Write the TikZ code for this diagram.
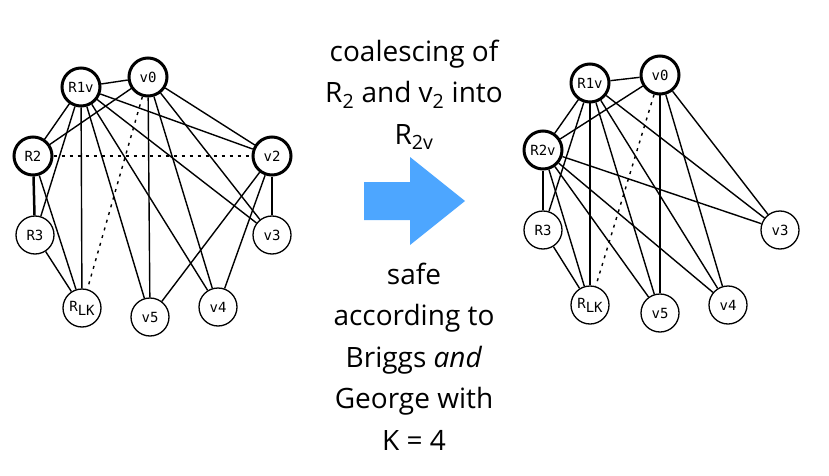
\documentclass[tikz,border=0pt]{standalone}
\usepackage{fontspec}
\setmainfont{Open Sans}
\setmonofont{DejaVu Sans Mono}

\definecolor{arrowblue}{RGB}{77,166,255}

\tikzset{
  reg/.style={circle,draw,line width=1.3pt,fill=white,minimum size=38pt,inner sep=0pt,
    font=\ttfamily\fontsize{14}{14}\selectfont},
  hot/.style={reg,line width=3pt},
  edge/.style={line width=1.4pt},
  moveedge/.style={edge,dash pattern=on 3pt off 5pt},
  caption/.style={align=center,font=\fontsize{28}{41.5}\selectfont}
}

\newcommand{\rlk}{R\raisebox{-4pt}{LK}}

\begin{document}
\begin{tikzpicture}[x=1pt,y=-1pt]

\useasboundingbox (0,0) rectangle (829,476);

% interference graph before coalescing
\node[hot] (lR1v) at (81,87) {R1v};
\node[hot] (lv0) at (148,77) {v0};
\node[hot] (lR2) at (33,156) {R2};
\node[hot] (lv2) at (272,156) {v2};
\node[reg] (lR3) at (35,235) {R3};
\node[reg] (lv3) at (272,235) {v3};
\node[reg] (lRLK) at (82,308) {\rlk};
\node[reg] (lv5) at (150,317) {v5};
\node[reg] (lv4) at (218,307) {v4};

\draw[edge] (lR1v)--(lv0);
\draw[edge] (lR1v)--(lR2);
\draw[edge] (lR1v)--(lR3);
\draw[edge] (lR1v)--(lRLK);
\draw[edge] (lR1v)--(lv5);
\draw[edge] (lR1v)--(lv4);
\draw[edge] (lR1v)--(lv3);
\draw[edge] (lR1v)--(lv2);
\draw[edge] (lv0)--(lR2);
\draw[edge] (lv0)--(lv5);
\draw[edge] (lv0)--(lv4);
\draw[edge] (lv0)--(lv3);
\draw[edge] (lv0)--(lv2);
\draw[edge,line width=2.5pt] (lR2)--(lR3);
\draw[edge] (lR2)--(lRLK);
\draw[edge] (lR3)--(lRLK);
\draw[edge] (lv2)--(lv3);
\draw[edge] (lv2)--(lv5);
\draw[edge] (lv2)--(lv4);
\draw[moveedge] (lv0)--(lRLK);
\draw[moveedge] (lR2)--(lv2);

% interference graph after coalescing
\node[hot] (rR1v) at (590,83) {R1v};
\node[hot] (rv0) at (660,75) {v0};
\node[hot] (rR2v) at (543,150) {R2v};
\node[reg] (rR3) at (543,230) {R3};
\node[reg] (rv3) at (780,230) {v3};
\node[reg] (rRLK) at (590,305) {\rlk};
\node[reg] (rv5) at (660,313) {v5};
\node[reg] (rv4) at (728,305) {v4};

\draw[edge] (rR1v)--(rv0);
\draw[edge] (rR1v)--(rR2v);
\draw[edge] (rR1v)--(rR3);
\draw[edge] (rR1v)--(rRLK);
\draw[edge] (rR1v)--(rv5);
\draw[edge] (rR1v)--(rv4);
\draw[edge] (rR1v)--(rv3);
\draw[edge] (rv0)--(rR2v);
\draw[edge] (rv0)--(rv5);
\draw[edge] (rv0)--(rv4);
\draw[edge] (rv0)--(rv3);
\draw[edge,line width=2.5pt] (rR2v)--(rR3);
\draw[edge] (rR2v)--(rRLK);
\draw[edge] (rR2v)--(rv5);
\draw[edge] (rR2v)--(rv4);
\draw[edge] (rR2v)--(rv3);
\draw[edge] (rR3)--(rRLK);
\draw[moveedge] (rv0)--(rRLK);

% block arrow and text in the middle
\fill[arrowblue] (364,182) -- (410,182) -- (410,157) -- (465,201)
  -- (410,245) -- (410,220) -- (364,220) -- cycle;

\node[caption,anchor=base] (top) at (414,144)
  {coalescing of\\R\textsubscript{2} and v\textsubscript{2} into\\R\textsubscript{2v}};
\node[caption,anchor=base] (bottom) at (414,450)
  {safe\\according to\\Briggs \textit{and}\\George with\\K = 4};

\end{tikzpicture}
\end{document}
